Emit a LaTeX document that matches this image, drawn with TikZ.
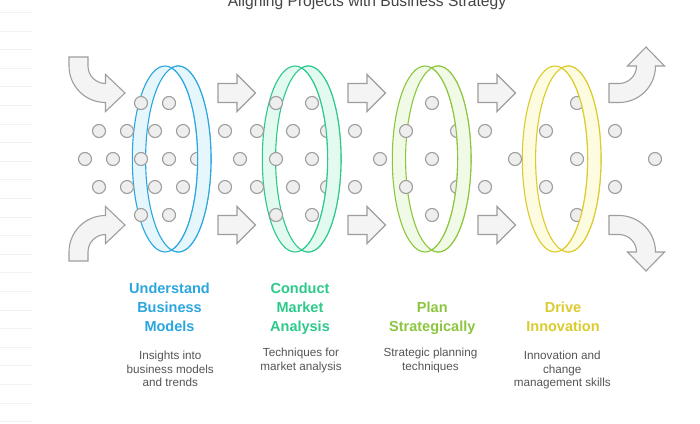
\documentclass[tikz,border=0pt]{standalone}
\usepackage{fontspec}
\setmainfont{Liberation Sans}
\definecolor{edgegray}{HTML}{9E9E9E}
\definecolor{dotfill}{HTML}{EEEEEE}
\definecolor{arrfill}{HTML}{F4F4F4}
\definecolor{faint}{HTML}{F2F2F2}
\definecolor{titlecol}{HTML}{444444}
\definecolor{desccol}{HTML}{555555}
\definecolor{blueS}{HTML}{2BA6DE}
\definecolor{blueF}{HTML}{E6F6FD}
\definecolor{greenS}{HTML}{2DC98A}
\definecolor{greenF}{HTML}{E3FAF0}
\definecolor{limeS}{HTML}{8CC63F}
\definecolor{limeF}{HTML}{F1FAE6}
\definecolor{yelS}{HTML}{DCCB2D}
\definecolor{yelF}{HTML}{FDFBE0}
\newcommand\TwoEll{(165,159) ellipse[x radius=32.7pt,y radius=93pt] (178.3,159) ellipse[x radius=32.7pt,y radius=93pt]}
\newcommand\RingBack[3]{%
  \begin{scope}[xshift=#1pt]
    \fill[#3, even odd rule] \TwoEll;
    \draw[#2, line width=1.1pt] \TwoEll;
  \end{scope}}
\newcommand\RingFront[3]{%
  \begin{scope}[xshift=#1pt]
    \clip (171.65,40) rectangle (230,280);
    \fill[#3, even odd rule] \TwoEll;
    \draw[#2, line width=1.1pt] \TwoEll;
  \end{scope}}
\newcommand\StraightArr[2]{%
  \draw[blockarr] (#1,#2-9.5) -- (#1+19,#2-9.5) -- (#1+19,#2-18.5) -- (#1+37.5,#2)
    -- (#1+19,#2+18.5) -- (#1+19,#2+9.5) -- (#1,#2+9.5) -- cycle;}
\begin{document}
\begin{tikzpicture}[x=1pt,y=-1pt,
  dot/.style={circle, draw=edgegray, fill=dotfill, line width=1.1pt, minimum size=13pt, inner sep=0pt},
  blockarr/.style={draw=edgegray, fill=arrfill, line width=1.1pt, line join=miter},
  headtxt/.style={font=\fontsize{14.5}{17}\bfseries\selectfont, anchor=base, inner sep=0pt},
  desctxt/.style={font=\fontsize{11.7}{14}\selectfont, text=desccol, anchor=base, inner sep=0pt},
]
\useasboundingbox (0,0) rectangle (700,423);
\fill[white] (0,0) rectangle (700,423);
% faint lines at the left edge
\foreach \k in {0,...,22} \draw[faint, line width=0.8pt] (0,12.3+18.6*\k) -- (32,12.3+18.6*\k);
% title
\node[font=\fontsize{15.6}{18}\selectfont, text=titlecol, anchor=base, inner sep=0pt] (title) at (367,6) {Aligning Projects with Business Strategy};
% curved arrows
\draw[blockarr] (69,57) -- (88,57) -- (88,66) arc[start angle=180,end angle=270,radius=17.5pt]
  -- (105.5,74.5) -- (125,93) -- (105.5,111.5) -- (105.5,102.5) arc[start angle=270,end angle=180,radius=36.5pt] -- cycle;
\draw[blockarr] (69,261) -- (88,261) -- (88,252) arc[start angle=180,end angle=90,radius=17.5pt]
  -- (105.5,243.5) -- (125,225) -- (105.5,206.5) -- (105.5,215.5) arc[start angle=90,end angle=180,radius=36.5pt] -- cycle;
\draw[blockarr] (609,83.5) -- (619,83.5) arc[start angle=270,end angle=360,radius=17.5pt]
  -- (627.5,66) -- (646,47) -- (664.5,66) -- (655.5,66) arc[start angle=0,end angle=-90,radius=36.5pt] -- (609,102.5) -- cycle;
\draw[blockarr] (609,234.5) -- (619,234.5) arc[start angle=90,end angle=0,radius=17.5pt]
  -- (627.5,252) -- (646,271) -- (664.5,252) -- (655.5,252) arc[start angle=0,end angle=90,radius=36.5pt] -- (609,215.5) -- cycle;
% straight arrows
\foreach \ax in {218,348,478} {\StraightArr{\ax}{93}\StraightArr{\ax}{225}}
% ring backs
\RingBack{0}{blueS}{blueF}
\RingBack{130}{greenS}{greenF}
\RingBack{260}{limeS}{limeF}
\RingBack{390}{yelS}{yelF}
% dots
\foreach \x [count=\k] in {141,169,276,312,432,577} {
  \node[dot] (ra-\k) at (\x,103) {};
  \node[dot] (re-\k) at (\x,215) {};}
\foreach \x [count=\k] in {99,127,155,183,225,257,293,327,355,406,457,485,546,615} {
  \node[dot] (rb-\k) at (\x,131) {};
  \node[dot] (rd-\k) at (\x,187) {};}
\foreach \x [count=\k] in {85,113,141,169,197,240,276,312,380,432,515,577,655}
  \node[dot] (rc-\k) at (\x,159) {};
% ring fronts
\RingFront{0}{blueS}{blueF}
\RingFront{130}{greenS}{greenF}
\RingFront{260}{limeS}{limeF}
\RingFront{390}{yelS}{yelF}
% headings
\node[headtxt, text=blueS] (h1a) at (169.5,293.3) {Understand};
\node[headtxt, text=blueS] (h1b) at (169.5,312.3) {Business};
\node[headtxt, text=blueS] (h1c) at (169.5,331) {Models};
\node[headtxt, text=greenS] (h2a) at (300,293.3) {Conduct};
\node[headtxt, text=greenS] (h2b) at (300,312.3) {Market};
\node[headtxt, text=greenS] (h2c) at (300,331) {Analysis};
\node[headtxt, text=limeS] (h3a) at (432.3,312.3) {Plan};
\node[headtxt, text=limeS] (h3b) at (432.3,331) {Strategically};
\node[headtxt, text=yelS] (h4a) at (563,312.3) {Drive};
\node[headtxt, text=yelS] (h4b) at (563,331) {Innovation};
% descriptions
\node[desctxt] (d1a) at (170.3,359) {Insights into};
\node[desctxt] (d1b) at (170.3,373) {business models};
\node[desctxt] (d1c) at (170.3,386.7) {and trends};
\node[desctxt] (d2a) at (301,356) {Techniques for};
\node[desctxt] (d2b) at (301,370) {market analysis};
\node[desctxt] (d3a) at (430.5,356.3) {Strategic planning};
\node[desctxt] (d3b) at (430.5,370.3) {techniques};
\node[desctxt] (d4a) at (562.3,359) {Innovation and};
\node[desctxt] (d4b) at (562.3,373) {change};
\node[desctxt] (d4c) at (562.3,386.7) {management skills};
\end{tikzpicture}
\end{document}
